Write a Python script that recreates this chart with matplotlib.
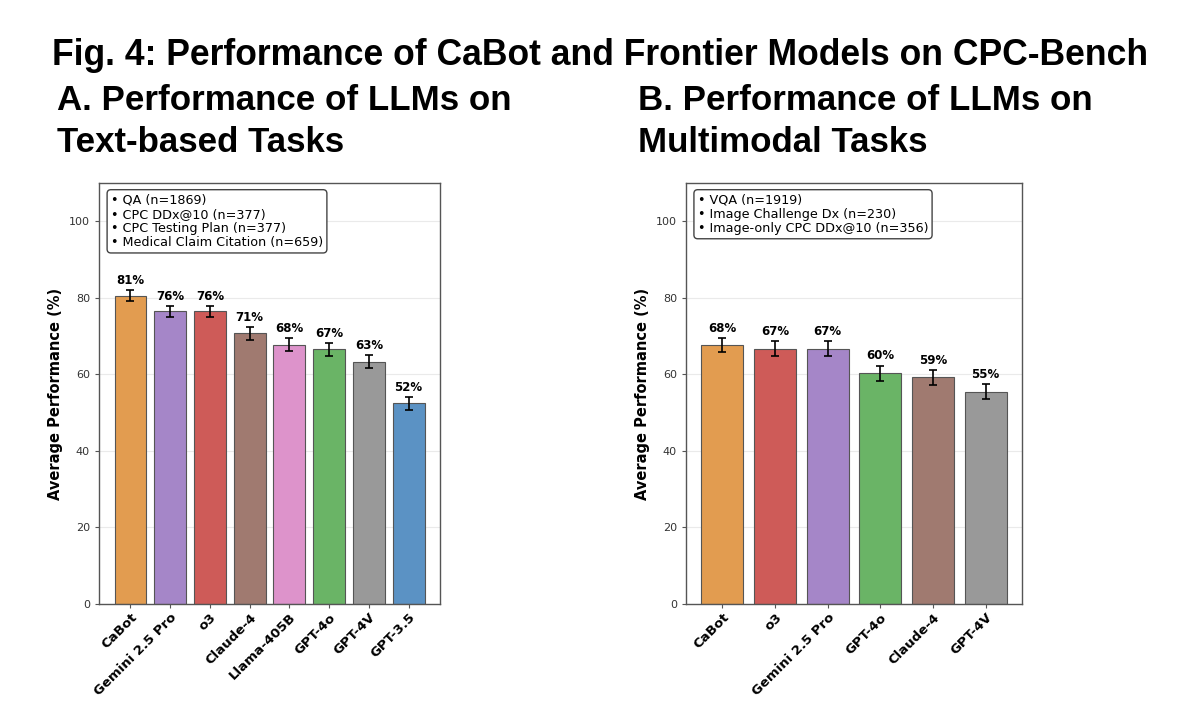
import matplotlib
matplotlib.use("Agg")
import matplotlib.pyplot as plt
import numpy as np

# panel A: text-based tasks
text_models = ["CaBot", "Gemini 2.5 Pro", "o3", "Claude-4", "Llama-405B", "GPT-4o", "GPT-4V", "GPT-3.5"]
text_scores = [80.6, 76.5, 76.5, 70.7, 67.8, 66.6, 63.3, 52.4]
text_errors = [1.4, 1.4, 1.4, 1.6, 1.7, 1.7, 1.7, 1.7]
text_labels = ["81%", "76%", "76%", "71%", "68%", "67%", "63%", "52%"]
text_tasks = ["QA (n=1869)", "CPC DDx@10 (n=377)", "CPC Testing Plan (n=377)",
              "Medical Claim Citation (n=659)"]

# panel B: multimodal tasks
mm_models = ["CaBot", "o3", "Gemini 2.5 Pro", "GPT-4o", "Claude-4", "GPT-4V"]
mm_scores = [67.7, 66.7, 66.7, 60.3, 59.2, 55.5]
mm_errors = [1.9, 1.9, 1.9, 2.0, 2.0, 2.0]
mm_labels = ["68%", "67%", "67%", "60%", "59%", "55%"]
mm_tasks = ["VQA (n=1919)", "Image Challenge Dx (n=230)", "Image-only CPC DDx@10 (n=356)"]

COLORS = {
    "CaBot": "#E29C50", "Gemini 2.5 Pro": "#A586C8", "o3": "#CE5B58",
    "Claude-4": "#A07A70", "Llama-405B": "#DD93CB", "GPT-4o": "#6AB466",
    "GPT-4V": "#999999", "GPT-3.5": "#5B92C4",
}

fig = plt.figure(figsize=(12, 7.15), dpi=100)


def draw_panel(ax, models, scores, errors, labels, tasks):
    x = np.arange(len(models))
    ax.bar(x, scores, width=0.8, color=[COLORS[m] for m in models],
           edgecolor="#555555", linewidth=0.8, zorder=2)
    ax.errorbar(x, scores, yerr=errors, fmt="none", ecolor="black",
                elinewidth=1.2, capsize=3, capthick=1.2, zorder=3)
    for xi, s, e, lab in zip(x, scores, errors, labels):
        ax.text(xi, s + e + 0.8, lab, ha="center", va="bottom",
                fontsize=8.5, fontweight="bold")
    ax.set_ylim(0, 110)
    ax.set_yticks([0, 20, 40, 60, 80, 100])
    ax.set_xticks(x)
    ax.set_xticklabels(models, rotation=45, ha="right", rotation_mode="anchor",
                       fontsize=9.5, fontweight="bold")
    ax.tick_params(axis="y", labelsize=8, labelcolor="#333333", length=3,
                   color="#555555")
    ax.tick_params(axis="x", length=3, color="#555555", pad=2)
    ax.set_ylabel("Average Performance (%)", fontsize=10.5, fontweight="bold")
    ax.yaxis.grid(True, color="#dddddd", alpha=0.6, linewidth=0.8, zorder=0)
    ax.set_axisbelow(True)
    for sp in ax.spines.values():
        sp.set_color("#555555")
        sp.set_linewidth(1.0)
    ax.text(0.035, 0.975, "\n".join("\u2022 " + t for t in tasks),
            transform=ax.transAxes, ha="left", va="top", fontsize=9.2,
            linespacing=1.12,
            bbox=dict(boxstyle="round,pad=0.3", facecolor="white",
                      edgecolor="#444444", linewidth=1.0))


ax_a = fig.add_axes([99 / 1200, 1 - 604 / 715, 341 / 1200, 421 / 715])
ax_b = fig.add_axes([686 / 1200, 1 - 604 / 715, 336 / 1200, 421 / 715])
draw_panel(ax_a, text_models, text_scores, text_errors, text_labels, text_tasks)
draw_panel(ax_b, mm_models, mm_scores, mm_errors, mm_labels, mm_tasks)

title_font = dict(family="Liberation Sans", fontweight="bold", color="black",
                  va="baseline")
fig.text(0.5, 1 - 65 / 715, "Fig. 4: Performance of CaBot and Frontier Models on CPC-Bench",
         ha="center", fontsize=25.6, **title_font)
panel_titles = [(57, ["A. Performance of LLMs on", "Text-based Tasks"]),
                (638, ["B. Performance of LLMs on", "Multimodal Tasks"])]
for x0, lines in panel_titles:
    for line, y0 in zip(lines, [110, 152]):
        fig.text(x0 / 1200, 1 - y0 / 715, line, ha="left", fontsize=25.1,
                 **title_font)

fig.savefig("out.png", dpi=100)
